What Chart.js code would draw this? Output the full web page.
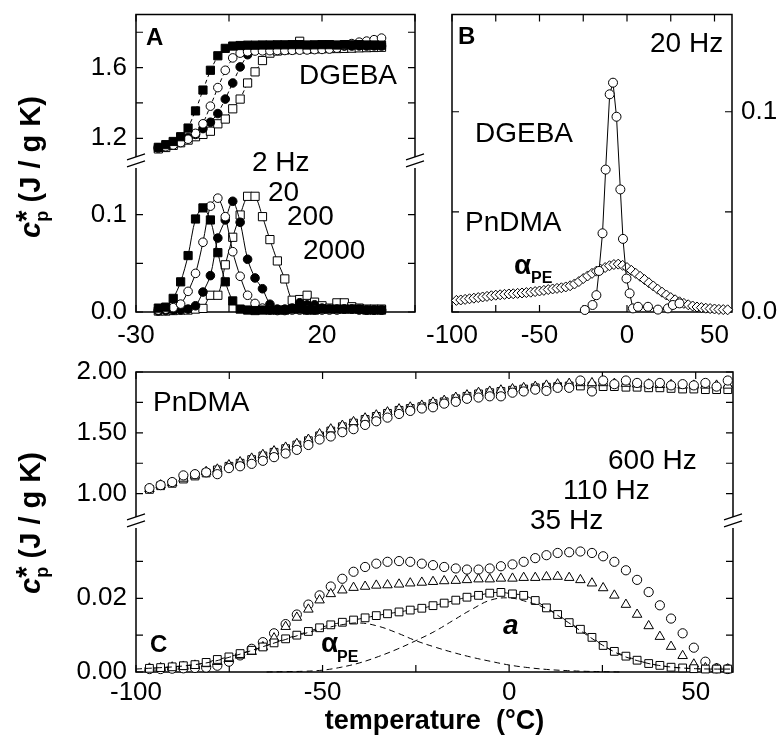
<!DOCTYPE html>
<html>
<head>
<meta charset="utf-8">
<script src="https://cdn.jsdelivr.net/npm/chart.js@4.4.1/dist/chart.umd.min.js"></script>
<style>
  body { margin: 0; background: #fff; }
  #wrap { position: relative; width: 784px; height: 744px; overflow: hidden;
          font-family: "Liberation Sans", Arial, Helvetica, sans-serif; color: #000; }
  #wrap canvas { position: absolute; }
  .note { position: absolute; line-height: 1; white-space: nowrap; }
  .ytitle { position: absolute; line-height: 1; white-space: nowrap; font-weight: bold; font-size: 29px;
            transform: translate(-50%, -50%) rotate(-90deg); }
</style>
</head>
<body>
<div id="wrap"></div>
<script>
// ---- panel A : DGEBA, four frequencies (2, 20, 200, 2000 Hz) ----
const aTemp = [-24,-22,-20,-18,-16,-14,-12,-10,-8,-6,-4,-2,0,2,4,6,8,10,12,14,16,18,20,22,24,26,28,30,32,34,36];
const a2HzHigh    = [1.149,1.164,1.182,1.209,1.258,1.355,1.473,1.585,1.667,1.709,1.722,1.725,1.727,1.727,1.728,1.728,1.729,1.729,1.730,1.730,1.728,1.729,1.730,1.730,1.728,1.730,1.729,1.730,1.728,1.728,1.727];
const a20HzHigh   = [1.146,1.152,1.162,1.176,1.195,1.228,1.282,1.382,1.487,1.585,1.655,1.682,1.690,1.694,1.695,1.696,1.697,1.697,1.698,1.699,1.700,1.702,1.703,1.705,1.710,1.725,1.736,1.744,1.750,1.758,1.767];
const a200HzHigh  = [1.145,1.155,1.168,1.185,1.205,1.222,1.255,1.291,1.340,1.422,1.513,1.604,1.673,1.700,1.708,1.712,1.714,1.716,1.717,1.718,1.719,1.720,1.720,1.721,1.721,1.722,1.722,1.723,1.722,1.723,1.722];
const a2000HzHigh = [1.140,1.148,1.160,1.175,1.190,1.209,1.222,1.240,1.282,1.309,1.367,1.422,1.513,1.576,1.640,1.682,1.694,1.700,1.702,1.749,1.705,1.706,1.707,1.708,1.708,1.709,1.710,1.712,1.713,1.714,1.715];
const a2HzLow     = [0.004,0.005,0.014,0.031,0.058,0.0956,0.107,0.0946,0.061,0.031,0.0114,0.003,0.002,0.0015,0.002,0.002,0.002,0.002,0.003,0.003,0.002,0.002,0.003,0.003,0.003,0.003,0.003,0.003,0.002,0.002,0.002];
const a20HzLow    = [0.002,0.003,0.0045,0.0081,0.0212,0.0397,0.0717,0.1088,0.117,0.098,0.062,0.0367,0.0172,0.0088,0.004,0.002,0.0015,0.0015,0.002,0.002,0.002,0.002,0.002,0.002,0.002,0.003,0.003,0.003,0.002,0.002,0.002];
const a200HzLow   = [0.001,0.0015,0.002,0.002,0.003,0.0064,0.0205,0.0374,0.076,0.0946,0.1138,0.0922,0.0542,0.035,0.0239,0.008,0.003,0.003,0.004,0.0095,0.0074,0.0074,0.004,0.003,0.003,0.003,0.003,0.002,0.002,0.002,0.002];
const a2000HzLow  = [0.001,0.001,0.0015,0.002,0.002,0.003,0.0037,0.0172,0.0172,0.0485,0.0768,0.0997,0.1189,0.1189,0.098,0.0744,0.0525,0.034,0.0121,0.0128,0.0172,0.0101,0.0064,0.004,0.0094,0.0094,0.0054,0.004,0.003,0.003,0.003];

// ---- panel B : 20 Hz, DGEBA (circles) and PnDMA alpha_PE (diamonds) ----
const bCircT   = [-24.1,-19.7,-17.5,-16.0,-14.0,-12.2,-9.9,-8.0,-6.0,-3.8,-2.3,-0.3,1.5,3.4,6.3,12.0,17.7,23.4,26.2,30.0];
const bCircVal = [0.001,0.0035,0.0084,0.0205,0.0393,0.0711,0.1087,0.1145,0.0975,0.0612,0.0365,0.0167,0.0093,0.0018,0.0026,0.0026,0.0012,0.0018,0.0035,0.0043];
const bDiamT   = [-97.5,-95,-92.5,-90,-87.5,-85,-82.5,-80,-77.5,-75,-72.5,-70,-67.5,-65,-62.5,-60,-57.5,-55,-52.5,-50,-47.5,-45,-42.5,-40,-37.5,-35,-32.5,-30,-27.5,-25,-22.5,-20,-17.5,-15,-12.5,-10,-7.5,-5,-2.5,0,2.5,5,7.5,10,12.5,15,17.5,20,22.5,25,27.5,30,32.5,35,37.5,40,42.5,45,47.5,50,52.5,55,57.5];
const bDiamVal = [0.0058,0.0060,0.0063,0.0066,0.0069,0.0072,0.0075,0.0078,0.0081,0.0084,0.0086,0.0088,0.0090,0.0091,0.0093,0.0095,0.0097,0.0099,0.0102,0.0105,0.0108,0.0112,0.0115,0.0118,0.0121,0.0125,0.0131,0.0140,0.0152,0.0167,0.0180,0.0193,0.0204,0.0213,0.0222,0.0231,0.0237,0.0239,0.0233,0.0222,0.0208,0.0193,0.0178,0.0162,0.0146,0.0130,0.0114,0.0099,0.0085,0.0072,0.0061,0.0051,0.0043,0.0036,0.0030,0.0025,0.0022,0.0019,0.0017,0.0015,0.0013,0.0012,0.0011];

// ---- panel C : PnDMA, 600 / 110 / 35 Hz ----
const cTemp = [-96.4,-93.4,-90.3,-87.3,-84.2,-81.2,-78.2,-75.1,-72.1,-69.0,-66.0,-63.0,-59.9,-56.9,-53.8,-50.8,-47.8,-44.7,-41.7,-38.6,-35.6,-32.6,-29.5,-26.5,-23.4,-20.4,-17.4,-14.3,-11.3,-8.2,-5.2,-2.2,0.9,3.9,7.0,10.0,13.0,16.1,19.1,22.2,25.2,28.2,31.3,34.3,37.4,40.4,43.4,46.5,49.5,52.6,55.6,58.6];
const cCirHigh = [1.045,1.07,1.095,1.15,1.16,1.175,1.16,1.21,1.225,1.245,1.27,1.30,1.33,1.36,1.40,1.445,1.47,1.505,1.53,1.565,1.595,1.625,1.655,1.68,1.70,1.71,1.74,1.755,1.78,1.79,1.80,1.80,1.83,1.84,1.855,1.845,1.87,1.87,1.93,1.84,1.93,1.90,1.93,1.91,1.90,1.91,1.89,1.90,1.89,1.91,1.88,1.93];
const cTriHigh = [1.04,1.07,1.09,1.125,1.15,1.18,1.20,1.235,1.26,1.29,1.32,1.35,1.38,1.41,1.445,1.49,1.53,1.56,1.59,1.62,1.645,1.67,1.695,1.71,1.725,1.75,1.765,1.79,1.81,1.83,1.84,1.85,1.86,1.87,1.88,1.89,1.90,1.905,1.91,1.91,1.91,1.905,1.905,1.90,1.90,1.895,1.895,1.89,1.89,1.89,1.89,1.89];
const cSqHigh  = [1.035,1.065,1.085,1.12,1.145,1.17,1.195,1.225,1.25,1.28,1.31,1.34,1.37,1.40,1.435,1.475,1.515,1.55,1.58,1.61,1.635,1.66,1.685,1.70,1.715,1.74,1.755,1.78,1.80,1.82,1.83,1.84,1.85,1.86,1.87,1.875,1.88,1.885,1.885,1.885,1.88,1.88,1.875,1.875,1.87,1.87,1.865,1.86,1.86,1.855,1.855,1.855];
const cCirLow  = [0.0008,0.0008,0.0009,0.0010,0.0011,0.0012,0.0017,0.0028,0.0045,0.0063,0.0081,0.0105,0.0130,0.0156,0.0183,0.0208,0.0232,0.0253,0.0272,0.0285,0.0294,0.0299,0.0301,0.0299,0.0294,0.0290,0.0285,0.0281,0.0278,0.0278,0.0281,0.0287,0.0292,0.0299,0.0309,0.0317,0.0323,0.0325,0.0327,0.0323,0.0314,0.0299,0.0276,0.0250,0.0217,0.0181,0.0145,0.0105,0.0066,0.0028,0.0010,0.0008];
const cTriLow  = [0.0010,0.0011,0.0013,0.0015,0.0018,0.0022,0.0028,0.0036,0.0045,0.0055,0.0068,0.0092,0.0123,0.0148,0.0170,0.0195,0.0212,0.0222,0.0229,0.0232,0.0235,0.0236,0.0238,0.0241,0.0243,0.0245,0.0247,0.0248,0.0250,0.0252,0.0252,0.0254,0.0254,0.0256,0.0256,0.0258,0.0259,0.0256,0.0250,0.0241,0.0228,0.0208,0.0183,0.0156,0.0125,0.0096,0.0069,0.0044,0.0021,0.0011,0.0009,0.0008];
const cSqLow   = [0.0010,0.0012,0.0014,0.0017,0.0020,0.0026,0.0034,0.0041,0.0050,0.0059,0.0068,0.0079,0.0090,0.0100,0.0110,0.0120,0.0128,0.0135,0.0141,0.0147,0.0153,0.0158,0.0163,0.0168,0.0173,0.0180,0.0187,0.0195,0.0203,0.0208,0.0214,0.0216,0.0212,0.0208,0.0194,0.0174,0.0156,0.0134,0.0116,0.0094,0.0072,0.0056,0.0043,0.0032,0.0023,0.0018,0.0013,0.0011,0.0009,0.0008,0.0008,0.0008];
// fit components (dashed)
const cAlphaT  = [-100,-95,-90,-85,-80,-75,-70,-65,-60,-55,-50,-45,-40,-35,-30,-25,-20,-15,-10,-5,0,5,10,15,20,25,30];
const cAlphaPE = [0.0008,0.0011,0.0014,0.0019,0.0027,0.0040,0.0055,0.0072,0.0088,0.0104,0.0117,0.0128,0.0133,0.0124,0.0106,0.0085,0.0068,0.0053,0.0040,0.0029,0.0019,0.0012,0.0007,0.0004,0.0002,0.0001,0.0000];
const cAT      = [-65,-60,-55,-50,-45,-40,-35,-30,-25,-20,-15,-10,-5,0,5,10,15,20,25,30,35,40,45,50,55,60];
const cAVal    = [0.0000,0.0001,0.0002,0.0005,0.0013,0.0025,0.0042,0.0062,0.0085,0.0110,0.0140,0.0170,0.0195,0.0201,0.0190,0.0172,0.0140,0.0106,0.0073,0.0046,0.0029,0.0018,0.0012,0.0009,0.0008,0.0008];

// ticks
const aXTicks = [-30,-5,20,45], aXLabels = [-30,20];
const bcXTicks = [-100,-75,-50,-25,0,25,50], bcXLabels = [-100,-50,0,50];

Chart.defaults.font.family = '"Liberation Sans", Arial, Helvetica, sans-serif';
Chart.defaults.font.size = 26;
Chart.defaults.color = '#000';

const wrap = document.getElementById('wrap');

// box with inward ticks and "//" axis breaks
const frame = {
  id: 'frame',
  beforeDatasetsDraw(chart) {
    const o = chart.canvas._frame;
    const { ctx, chartArea: a, scales } = chart;
    const g = 3.5, L = 7;
    const t = o.brk === 'top' ? a.top + g : a.top;
    const b = o.brk === 'bottom' ? a.bottom - g : a.bottom;
    ctx.save();
    ctx.strokeStyle = '#000';
    ctx.lineWidth = 1.5;
    ctx.beginPath();
    ctx.moveTo(a.left, t); ctx.lineTo(a.left, b);
    ctx.moveTo(a.right, t); ctx.lineTo(a.right, b);
    if (o.brk !== 'top') { ctx.moveTo(a.left - 0.75, a.top); ctx.lineTo(a.right + 0.75, a.top); }
    if (o.brk !== 'bottom') { ctx.moveTo(a.left - 0.75, a.bottom); ctx.lineTo(a.right + 0.75, a.bottom); }
    ctx.stroke();
    ctx.lineWidth = 1.2;
    ctx.beginPath();
    o.xTicks.forEach(v => {
      const px = scales.x.getPixelForValue(v);
      if (o.brk !== 'top') { ctx.moveTo(px, a.top); ctx.lineTo(px, a.top + L); }
      if (o.brk !== 'bottom') { ctx.moveTo(px, a.bottom); ctx.lineTo(px, a.bottom - L); }
    });
    o.yTicks.forEach(v => {
      const py = scales.y.getPixelForValue(v);
      ctx.moveTo(a.left, py); ctx.lineTo(a.left + L, py);
      ctx.moveTo(a.right, py); ctx.lineTo(a.right - L, py);
    });
    ctx.stroke();
    if (o.brk === 'bottom') {
      ctx.beginPath();
      [a.left, a.right].forEach(x => {
        [-g, g].forEach(d => {
          ctx.moveTo(x - 9, a.bottom + d + 3);
          ctx.lineTo(x + 9, a.bottom + d - 3);
        });
      });
      ctx.stroke();
    }
    ctx.restore();
  }
};

// p.pad = margins (canvas px) around the plot box; keep them >= 20 so the
// y tick labels' own padding never overrides them
function makePanel(p) {
  const cv = document.createElement('canvas');
  cv.width = p.w; cv.height = p.h;
  cv.style.left = p.left + 'px'; cv.style.top = p.top + 'px';
  cv._frame = { brk: p.brk, xTicks: p.x.ticks, yTicks: p.y.ticks };
  wrap.appendChild(cv);
  const yRight = p.y.pos === 'right';
  const pad = { left: yRight ? p.pad.l : 0, right: yRight ? 0 : p.pad.r, top: p.pad.t, bottom: p.x.show ? 0 : p.pad.b };
  const xScale = {
    type: 'linear', min: p.x.min, max: p.x.max, display: p.x.show,
    grid: { display: false, drawTicks: false }, border: { display: false },
    afterBuildTicks: s => { s.ticks = p.x.ticks.map(v => ({ value: v })); },
    ticks: { autoSkip: false, maxRotation: 0, padding: p.x.pad || 8,
             callback: v => p.x.labels.includes(v) ? String(v) : '' },
    title: p.x.title ? { display: true, text: p.x.title, font: { size: 27, weight: 'bold' }, padding: { top: 0, bottom: 6 } } : { display: false }
  };
  if (p.x.show) xScale.afterFit = s => { s.height = p.pad.b; };
  return new Chart(cv, {
    type: 'scatter',
    data: { datasets: p.datasets },
    options: {
      responsive: false,
      animation: false,
      events: [],
      layout: { padding: pad },
      plugins: { legend: { display: false }, tooltip: { enabled: false } },
      scales: {
        x: xScale,
        y: {
          type: 'linear', position: yRight ? 'right' : 'left', min: p.y.min, max: p.y.max,
          grid: { display: false, drawTicks: false }, border: { display: false },
          afterBuildTicks: s => { s.ticks = p.y.ticks.map(v => ({ value: v })); },
          ticks: { autoSkip: false, padding: 9,
                   callback: v => p.y.labels.includes(v) ? v.toFixed(p.y.digits) : '' },
          afterFit: s => { s.width = yRight ? p.pad.r : p.pad.l; }
        }
      }
    },
    plugins: [frame]
  });
}

function marks(xs, ys, style, r, fill, extra) {
  return Object.assign({
    data: xs.map((x, i) => ({ x: x, y: ys[i] })),
    pointStyle: style, pointRadius: r, pointBorderWidth: 1,
    pointBorderColor: '#000', pointBackgroundColor: fill,
    borderColor: '#000', borderWidth: 1, showLine: false, clip: false
  }, extra || {});
}
function curve(xs, ys, dash) {
  return {
    data: xs.map((x, i) => ({ x: x, y: ys[i] })),
    showLine: true, pointRadius: 0, borderColor: '#000', borderWidth: 1,
    borderDash: dash, tension: 0.4, clip: false
  };
}

const dashed = { showLine: true, borderDash: [4, 3] };
const solid = { showLine: true, tension: 0.3 };

// A upper : box y 12..162
makePanel({
  left: 0, top: -10, w: 440, h: 195, pad: { l: 136, r: 25, t: 22, b: 23 }, brk: 'bottom',
  x: { min: -30, max: 45, ticks: aXTicks, labels: [], show: false },
  y: { min: 1.075, max: 1.9, ticks: [1.2, 1.4, 1.6, 1.8], labels: [1.2, 1.6], digits: 1 },
  datasets: [
    marks(aTemp, a2HzHigh, 'rect', 5.8, '#000', dashed),
    marks(aTemp, a20HzHigh, 'circle', 4.3, '#fff', dashed),
    marks(aTemp, a200HzHigh, 'circle', 4.3, '#000', dashed),
    marks(aTemp, a2000HzHigh, 'rect', 5.8, '#fff', dashed)
  ]
});
// A lower : box y 162..312
makePanel({
  left: 0, top: 140, w: 440, h: 210, pad: { l: 136, r: 25, t: 22, b: 38 }, brk: 'top',
  x: { min: -30, max: 45, ticks: aXTicks, labels: aXLabels, show: true, pad: 8 },
  y: { min: 0, max: 0.1515, ticks: [0, 0.05, 0.1], labels: [0, 0.1], digits: 1 },
  datasets: [
    marks(aTemp, a2HzLow, 'rect', 5.8, '#000', solid),
    marks(aTemp, a20HzLow, 'circle', 4.3, '#fff', solid),
    marks(aTemp, a200HzLow, 'circle', 4.3, '#000', solid),
    marks(aTemp, a2000HzLow, 'rect', 5.8, '#fff', solid)
  ]
});
// B : box x 452..732, y 12..312
makePanel({
  left: 410, top: -10, w: 374, h: 360, pad: { l: 42, r: 52, t: 22, b: 38 },
  x: { min: -100, max: 60, ticks: bcXTicks, labels: bcXLabels, show: true, pad: 8 },
  y: { min: 0, max: 0.1485, ticks: [0, 0.05, 0.1], labels: [0, 0.1], digits: 1, pos: 'right' },
  datasets: [
    marks(bCircT, bCircVal, 'circle', 4.5, '#fff', { showLine: true }),
    marks(bDiamT, bDiamVal, 'rectRot', 5, '#fff')
  ]
});
// C upper : box y 372..522
makePanel({
  left: 0, top: 345, w: 784, h: 200, pad: { l: 136, r: 51, t: 27, b: 23 }, brk: 'bottom',
  x: { min: -100, max: 60, ticks: bcXTicks, labels: [], show: false },
  y: { min: 0.78, max: 2.0, ticks: [1.0, 1.25, 1.5, 1.75, 2.0], labels: [1.0, 1.5, 2.0], digits: 2 },
  datasets: [
    marks(cTemp, cCirHigh, 'circle', 4.6, '#fff'),
    marks(cTemp, cTriHigh, 'triangle', 5.5, '#fff'),
    marks(cTemp, cSqHigh, 'rect', 5.5, '#fff')
  ]
});
// C lower : box y 522..672
makePanel({
  left: 0, top: 500, w: 784, h: 244, pad: { l: 136, r: 51, t: 22, b: 72 }, brk: 'top',
  x: { min: -100, max: 60, ticks: bcXTicks, labels: bcXLabels, show: true, pad: 5, title: 'temperature  (°C)' },
  y: { min: 0, max: 0.04, ticks: [0, 0.01, 0.02, 0.03], labels: [0, 0.02], digits: 2 },
  datasets: [
    curve(cAlphaT, cAlphaPE, [6, 4]),
    curve(cAT, cAVal, [6, 4]),
    marks(cTemp, cSqLow, 'rect', 5.5, '#fff', { showLine: true, tension: 0.4 }),
    marks(cTemp, cTriLow, 'triangle', 5.5, '#fff'),
    marks(cTemp, cCirLow, 'circle', 4.6, '#fff')
  ]
});

// text annotations
function note(html, x, base, size, css) {
  const d = document.createElement('div');
  d.className = 'note';
  d.innerHTML = html;
  d.style.left = x + 'px';
  d.style.top = (base - 0.8465 * size) + 'px';
  d.style.fontSize = size + 'px';
  if (css) d.style.cssText += css;
  wrap.appendChild(d);
}
const B = 'font-weight:bold;';
note('A', 146, 45, 24, B);
note('DGEBA', 299, 85, 28);
note('2 Hz', 252, 172, 28);
note('20', 268, 202, 28);
note('200', 287, 226, 28);
note('2000', 303, 260, 28);
note('B', 458, 44, 24, B);
note('20 Hz', 650, 53, 28);
note('DGEBA', 475, 143, 28);
note('PnDMA', 465, 232, 28);
note('α', 514, 275, 28, B);
note('PE', 531, 284, 16, B);
note('PnDMA', 153, 412, 28);
note('600 Hz', 608, 470, 28);
note('110 Hz', 563, 500, 28);
note('35 Hz', 530, 530, 28);
note('C', 150, 652, 24, B);
note('α', 321, 653, 28, B);
note('PE', 337, 663, 16, B);
note('a', 503, 635, 28, B + 'font-style:italic;');

function yTitle(cx, cy) {
  const d = document.createElement('div');
  d.className = 'ytitle';
  d.style.left = cx + 'px';
  d.style.top = cy + 'px';
  d.innerHTML = '<i>c</i><span style="font-size:18px;position:relative;top:8px">p</span>' +
                '<span style="position:relative;top:-4px;margin-left:-11px">*</span> (J / g K)';
  wrap.appendChild(d);
}
yTitle(30, 167);
yTitle(30, 523);
</script>
</body>
</html>
